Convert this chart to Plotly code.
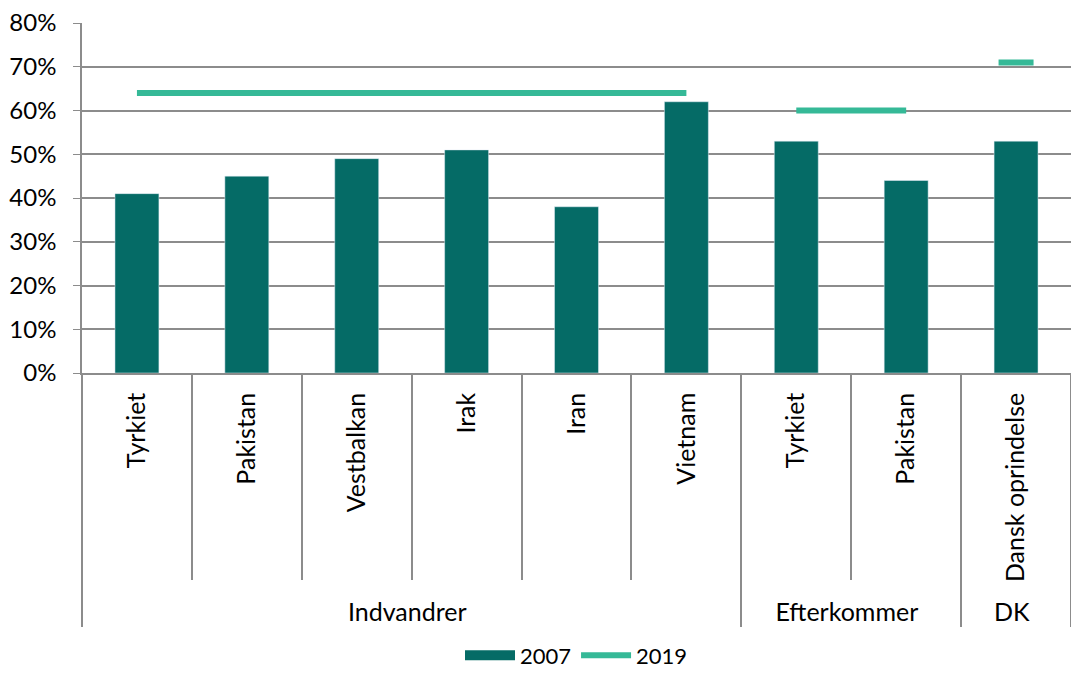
import plotly.graph_objects as go

groups = ["Indvandrer"] * 6 + ["Efterkommer"] * 2 + ["DK"]
countries = ["Tyrkiet", "Pakistan", "Vestbalkan", "Irak", "Iran", "Vietnam",
             "Tyrkiet", "Pakistan", "Dansk oprindelse"]
v2007 = [0.41, 0.45, 0.49, 0.51, 0.38, 0.62, 0.53, 0.44, 0.53]
v2019 = [0.64, 0.64, 0.64, 0.64, 0.64, 0.64, None, None, None]
v2019_eft = [None, None, None, None, None, None, 0.60, 0.60, None]
v2019_dk = [None, None, None, None, None, None, None, None, 0.71]

BAR = "#056B66"
LINE = "#35B997"
GRID = "#8C8C8C"
FONT = "Lato"

x = [groups, countries]
fig = go.Figure()
fig.add_trace(go.Bar(x=x, y=v2007, name="2007", marker_color=BAR, width=0.4,
                     showlegend=False))
fig.add_trace(go.Scatter(x=x, y=v2019, name="2019", mode="lines", showlegend=False,
                         line=dict(color=LINE, width=6), connectgaps=False))
fig.add_trace(go.Scatter(x=x, y=v2019_eft, name="2019", mode="lines", showlegend=False,
                         line=dict(color=LINE, width=6), connectgaps=False))
fig.add_trace(go.Scatter(x=x, y=v2019_dk, name="2019", mode="markers", showlegend=False,
                         marker=dict(symbol="line-ew", size=25,
                                     line=dict(color=LINE, width=6))))
# legend entries
fig.add_trace(go.Scatter(x=[None], y=[None], name="2007", mode="lines",
                         line=dict(color=BAR, width=15)))
fig.add_trace(go.Scatter(x=[None], y=[None], name="2019", mode="lines",
                         line=dict(color=LINE, width=6)))

fig.update_layout(
    width=1063, height=662,
    margin=dict(l=74, r=0, t=15, b=297, autoexpand=False),
    plot_bgcolor="white", paper_bgcolor="white",
    font=dict(family=FONT, size=24, color="#000000"),
    legend=dict(orientation="h", x=0.5, xanchor="center",
                yref="container", y=0.022, yanchor="middle",
                font=dict(size=22), traceorder="normal", itemwidth=50),
    yaxis=dict(range=[0, 0.8], tickformat=".0%", dtick=0.1, automargin=False,
               tickvals=[0, 0.1, 0.2, 0.3, 0.4, 0.5, 0.6, 0.7, 0.8],
               ticklabeloverflow="allow",
               showgrid=True, gridcolor=GRID, gridwidth=1.5,
               ticks="outside", ticklen=7, tickcolor=GRID, ticklabelstandoff=12,
               showline=True, linecolor=GRID, linewidth=1.5, zeroline=False),
    xaxis=dict(type="multicategory", tickangle=-90, range=[-0.5, 8.5], automargin=False,
               tickfont=dict(size=25), ticklabelstandoff=8,
               showline=True, linecolor=GRID, linewidth=1.5,
               ticks="outside", ticklen=205, tickcolor=GRID, tickwidth=1.5,
               showdividers=True, dividercolor=GRID, dividerwidth=1.5),
)

fig.write_html("out.html")
